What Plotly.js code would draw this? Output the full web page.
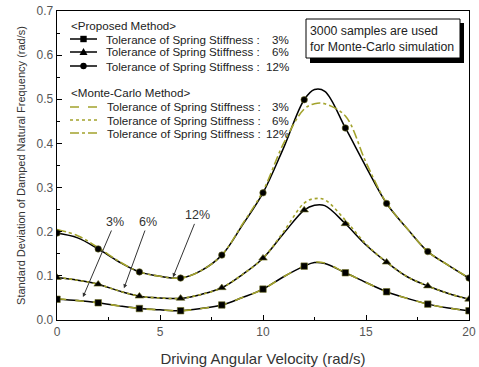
<!DOCTYPE html>
<html>
<head>
<meta charset="utf-8">
<script src="https://cdn.plot.ly/plotly-3.0.1.min.js"></script>
<style>html,body{margin:0;padding:0;background:#fff;}#chart{width:479px;height:367px;}</style>
</head>
<body>
<div id="chart"></div>
<script>
// ---- data ----
var xVals = [0,1,2,3,4,5,6,7,8,9,10,11,12,12.5,13,14,15,16,17,18,19,20];
var markerX = [0,2,4,6,8,10,12,14,16,18,20];
// Proposed method
var prop3  = [0.047,0.044,0.039,0.032,0.026,0.023,0.021,0.026,0.034,0.051,0.070,0.098,0.122,0.130,0.128,0.107,0.085,0.064,0.049,0.036,0.027,0.021];
var prop6  = [0.096,0.090,0.081,0.066,0.054,0.050,0.049,0.058,0.073,0.103,0.140,0.196,0.249,0.260,0.259,0.218,0.170,0.131,0.098,0.077,0.060,0.047];
var prop12 = [0.197,0.186,0.161,0.132,0.109,0.099,0.095,0.112,0.147,0.215,0.288,0.390,0.499,0.522,0.518,0.435,0.347,0.264,0.207,0.155,0.124,0.095];
// Monte-Carlo method
var mc3  = [0.048,0.044,0.039,0.032,0.026,0.023,0.021,0.026,0.034,0.051,0.070,0.098,0.123,0.131,0.129,0.107,0.085,0.064,0.049,0.036,0.027,0.021];
var mc6  = [0.097,0.090,0.081,0.066,0.054,0.050,0.049,0.058,0.073,0.103,0.140,0.200,0.265,0.275,0.272,0.226,0.172,0.131,0.098,0.077,0.060,0.047];
var mc12 = [0.205,0.191,0.164,0.133,0.109,0.099,0.095,0.112,0.147,0.217,0.292,0.400,0.478,0.490,0.490,0.462,0.357,0.265,0.207,0.155,0.124,0.095];
var tolLabels = ['3%','6%','12%'];
var propLegend = '&lt;Proposed Method&gt;';
var mcLegend = '&lt;Monte-Carlo Method&gt;';
var tolText = 'Tolerance of Spring Stiffness :';
var noteLines = ['3000 samples are used','for Monte-Carlo simulation'];
var xTitle = 'Driving Angular Velocity (rad/s)';
var yTitle = 'Standard Deviation of Damped Natural Frequency (rad/s)';

// ---- styling ----
var FONT = 'Liberation Sans, Arial, sans-serif';
var OLIVE = '#a3a32c';
var symbols = ['square','triangle-up','circle'];
var mcDash = ['dash','dot','dashdot'];
var propSeries = [prop3, prop6, prop12];
var mcSeries = [mc3, mc6, mc12];

function pick(xs, ys, wanted){
  return wanted.map(function(w){ return ys[xs.indexOf(w)]; });
}

var traces = [];
propSeries.forEach(function(s){
  traces.push({x:xVals, y:s, mode:'lines', line:{color:'#000', width:1.5, shape:'spline', smoothing:1}, showlegend:false, hoverinfo:'skip'});
});
mcSeries.forEach(function(s,i){
  traces.push({x:xVals, y:s, mode:'lines', line:{color:OLIVE, width:1.6, dash:mcDash[i], shape:'spline', smoothing:1}, showlegend:false, hoverinfo:'skip'});
});
propSeries.forEach(function(s,i){
  traces.push({x:markerX, y:pick(xVals, s, markerX), mode:'markers',
    marker:{symbol:symbols[i], color:'#000', size:(i===1?7.5:6.5), line:{color:'#6b6b20', width:0.6}}, showlegend:false, hoverinfo:'skip'});
});

// pixel -> paper helpers (plot area: x 57..469, y 11..320)
var L=57, R=469, T=11, B=320;
function px(v){ return (v-L)/(R-L); }
function py(v){ return (B-v)/(B-T); }

var shapes = [];
var annotations = [];

// manual legend
var legFont = {family:FONT, size:11.6, color:'#222'};
annotations.push({xref:'paper', yref:'paper', x:px(69), y:py(26), xanchor:'left', yanchor:'middle', text:propLegend, showarrow:false, font:legFont});
annotations.push({xref:'paper', yref:'paper', x:px(69), y:py(92), xanchor:'left', yanchor:'middle', text:mcLegend, showarrow:false, font:legFont});
var propRows = [39,52,66], mcRows = [107,120,133];
tolLabels.forEach(function(lab,i){
  var yy = propRows[i];
  shapes.push({type:'line', xref:'paper', yref:'paper', x0:px(70), x1:px(97), y0:py(yy), y1:py(yy), line:{color:'#000', width:1.5}});
  var cx = 83.5, r = 3.2;
  if (i===0) shapes.push({type:'rect', xref:'paper', yref:'paper', x0:px(cx-r), x1:px(cx+r), y0:py(yy+r), y1:py(yy-r), fillcolor:'#000', line:{width:0}});
  if (i===1) shapes.push({type:'path', xref:'paper', yref:'paper', path:'M'+px(cx-4)+','+py(yy+3)+' L'+px(cx+4)+','+py(yy+3)+' L'+px(cx)+','+py(yy-4)+' Z', fillcolor:'#000', line:{width:0}});
  if (i===2) shapes.push({type:'circle', xref:'paper', yref:'paper', x0:px(cx-r), x1:px(cx+r), y0:py(yy+r), y1:py(yy-r), fillcolor:'#000', line:{width:0}});
  annotations.push({xref:'paper', yref:'paper', x:px(104), y:py(yy), xanchor:'left', yanchor:'middle', text:tolText, showarrow:false, font:legFont});
  annotations.push({xref:'paper', yref:'paper', x:px(291), y:py(yy), xanchor:'right', yanchor:'middle', text:lab, showarrow:false, font:legFont});
  var y2 = mcRows[i];
  shapes.push({type:'line', xref:'paper', yref:'paper', x0:px(70), x1:px(97), y0:py(y2), y1:py(y2), line:{color:OLIVE, width:1.6, dash:mcDash[i]}});
  annotations.push({xref:'paper', yref:'paper', x:px(105), y:py(y2), xanchor:'left', yanchor:'middle', text:tolText, showarrow:false, font:legFont});
  annotations.push({xref:'paper', yref:'paper', x:px(291), y:py(y2), xanchor:'right', yanchor:'middle', text:lab, showarrow:false, font:legFont});
});

// note box with shadow
shapes.push({type:'rect', xref:'paper', yref:'paper', x0:px(310), x1:px(464), y0:py(63), y1:py(23), fillcolor:'#000', line:{width:0}});
shapes.push({type:'rect', xref:'paper', yref:'paper', x0:px(306), x1:px(460), y0:py(58), y1:py(19), fillcolor:'#fff', line:{color:'#000', width:1}});
annotations.push({xref:'paper', yref:'paper', x:px(308), y:py(38.5), xanchor:'left', yanchor:'middle', align:'left', text:noteLines.join('<br>'), showarrow:false, font:{family:FONT, size:12.3, color:'#222'}});

// arrow callouts (head position on curve, text position)
var callouts = [
  {lab:'3%',  hx:1.26, hy:0.052, tx:2.82, ty:0.222},
  {lab:'6%',  hx:3.25, hy:0.072, tx:4.42, ty:0.222},
  {lab:'12%', hx:5.63, hy:0.097, tx:6.84, ty:0.237}
];
callouts.forEach(function(c){
  annotations.push({x:c.hx, y:c.hy, xref:'x', yref:'y', axref:'x', ayref:'y', ax:c.tx, ay:c.ty, text:c.lab, showarrow:true,
    arrowhead:2, arrowsize:0.8, arrowwidth:1, arrowcolor:'#333', font:{family:FONT, size:12.5, color:'#333'}});
});

var layout = {
  width:479, height:367,
  margin:{l:L, r:479-R, t:T, b:367-B},
  paper_bgcolor:'#fff', plot_bgcolor:'#fff',
  showlegend:false,
  font:{family:FONT, color:'#444'},
  xaxis:{range:[0,20], dtick:5, tick0:0, ticks:'inside', ticklen:5, tickcolor:'#000', showgrid:false, zeroline:false,
    showline:true, linecolor:'#000', linewidth:1.3, mirror:true,
    minor:{dtick:2.5, ticks:'inside', ticklen:3, tickcolor:'#000', showgrid:false},
    tickfont:{family:FONT, size:12, color:'#555'},
    title:{text:xTitle, font:{family:FONT, size:15, color:'#333'}, standoff:15}},
  yaxis:{range:[0,0.7], dtick:0.1, tick0:0, tickformat:'.1f', ticks:'inside', ticklen:5, tickcolor:'#000', showgrid:false, zeroline:false,
    showline:true, linecolor:'#000', linewidth:1.3, mirror:true,
    minor:{dtick:0.05, ticks:'inside', ticklen:3, tickcolor:'#000', showgrid:false},
    tickfont:{family:FONT, size:12, color:'#555'},
    title:{text:yTitle, font:{family:FONT, size:11, color:'#333'}, standoff:8}},
  shapes:shapes,
  annotations:annotations
};

Plotly.newPlot('chart', traces, layout, {staticPlot:true, displayModeBar:false});
</script>
</body>
</html>
